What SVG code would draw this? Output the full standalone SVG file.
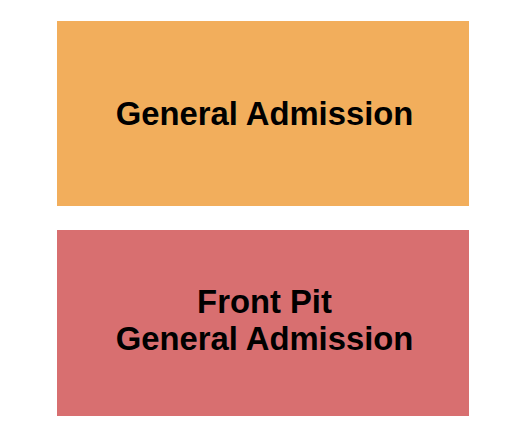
<svg xmlns="http://www.w3.org/2000/svg" width="525" height="444" viewBox="0 0 525 444">
<style>
.lbl{font-family:"Liberation Sans",Arial,sans-serif;font-weight:bold;font-size:32.8px;fill:#000;text-anchor:middle}
</style>
<rect width="525" height="444" fill="#fff"/>
<g id="general-admission">
<rect x="57" y="21" width="412" height="185" fill="#F2AE5C"/>
<text class="lbl" x="264.5" y="125">General Admission</text>
</g>
<g id="front-pit">
<rect x="57" y="230" width="412" height="186" fill="#D86F70"/>
<text class="lbl" x="264.5" y="313">Front Pit</text>
<text class="lbl" x="264.5" y="350">General Admission</text>
</g>
<g id="connectors"/>
</svg>
